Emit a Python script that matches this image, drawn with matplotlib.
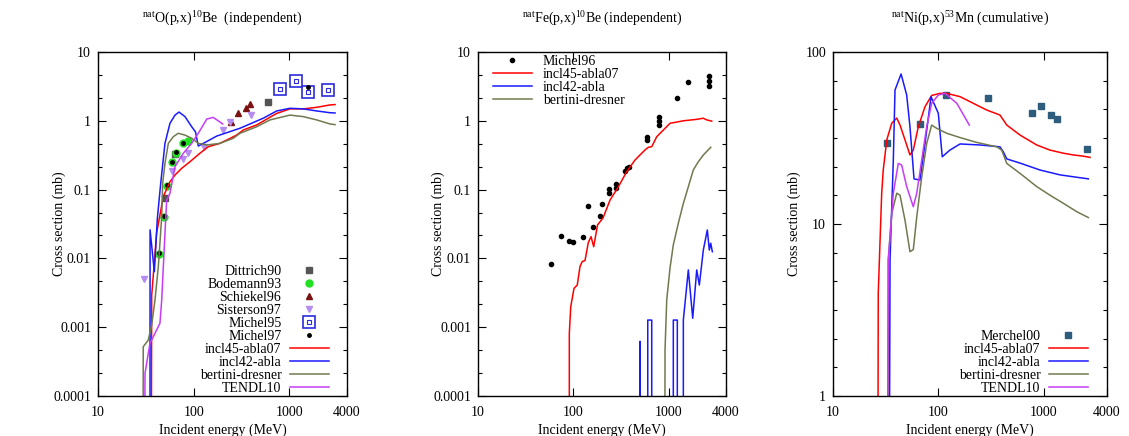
import numpy as np
import matplotlib
matplotlib.use('Agg')
import matplotlib.pyplot as plt
from matplotlib.ticker import FixedLocator, NullFormatter, FuncFormatter

plt.rcParams['font.family'] = ['Liberation Serif', 'DejaVu Serif']
plt.rcParams['mathtext.fontset'] = 'custom'
plt.rcParams['mathtext.rm'] = 'Liberation Serif'
plt.rcParams['font.size'] = 10

# ---------------- panel 1 : natO(p,x)10Be ----------------
dittrich_e = [50, 64, 593]
dittrich_s = [0.075, 0.33, 1.90]
bodemann_e = [43.7, 49, 53, 58.9, 65.3, 77.9, 87.8]
bodemann_s = [0.0115, 0.040, 0.113, 0.249, 0.344, 0.471, 0.514]
schiekel_e = [245, 287, 352, 392]
schiekel_s = [0.97, 1.28, 1.52, 1.73]
sisterson_e = [30.5, 58.9, 77.9, 88, 129, 201, 239, 394]
sisterson_s = [0.0051, 0.188, 0.276, 0.337, 0.42, 0.736, 0.97, 1.21]
michel95_e = [798, 1172, 1575, 2512]
michel95_s = [2.90, 3.78, 2.65, 2.80]
michel97_e = [43.7, 49, 53, 58.9, 65.3, 77.9, 1575]
michel97_s = [0.0118, 0.041, 0.115, 0.25, 0.35, 0.47, 3.13]

o_incl45_e = [35.5, 36.4, 41, 48.1, 56.5, 63.8, 75, 91.4, 116, 142, 188, 281, 330, 455, 602, 736,
              1014, 1397, 1928, 2655, 3000]
o_incl45_s = [0, 0.0029, 0.0234, 0.079, 0.130, 0.163, 0.204, 0.254, 0.337, 0.42, 0.47, 0.62, 0.735,
              0.87, 1.09, 1.28, 1.49, 1.49, 1.57, 1.70, 1.72]
o_incl42_e = [34.9, 35.0, 38.8, 41.7, 45.2, 50.1, 56.5, 63.8, 70.2, 81.1, 95.3, 104.4, 111.7, 137,
              174, 305, 533, 736, 1014, 1397, 1928, 2655, 3000]
o_incl42_s = [0, 0.026, 0.0064, 0.038, 0.123, 0.47, 0.92, 1.21, 1.34, 1.15, 0.82, 0.69, 0.43, 0.50,
              0.60, 0.78, 1.09, 1.39, 1.52, 1.49, 1.39, 1.31, 1.30]
o_bertini_e = [29.3, 29.7, 33.5, 36.4, 39.4, 42.7, 46.3, 47.4, 50.1, 54.3, 61.2, 69, 81.1, 95.3,
               111.7, 137, 188, 259, 305, 455, 627, 1014, 1397, 1928, 2655, 3000]
o_bertini_s = [0, 0.00052, 0.00065, 0.00108, 0.00248, 0.0076, 0.040, 0.124, 0.241, 0.47, 0.587,
               0.658, 0.62, 0.557, 0.47, 0.445, 0.47, 0.557, 0.658, 0.82, 1.03, 1.21, 1.15, 1.03,
               0.90, 0.88]
o_tendl_e = [29.7, 31, 34.9, 44.4, 46.3, 50.1, 52.2, 56.5, 63.8, 77.9, 95.3, 111.7, 137, 160, 201]
o_tendl_s = [0, 0.000214, 0.00058, 0.00114, 0.00248, 0.0232, 0.0706, 0.088, 0.215, 0.337, 0.471,
             0.658, 1.06, 1.12, 0.90]

# ---------------- panel 2 : natFe(p,x)10Be ----------------
michel96_e = [58.3, 73.8, 90.8, 100, 126, 144, 162, 191, 198, 239, 239, 281, 281, 349, 363, 384,
              598, 598, 799, 799, 799, 1216, 1610, 2655, 2655, 2655]
michel96_s = [0.0082, 0.0214, 0.0181, 0.0171, 0.0203, 0.0587, 0.0283, 0.041, 0.061, 0.102, 0.090,
              0.119, 0.104, 0.186, 0.204, 0.211, 0.587, 0.526, 1.15, 1.00, 0.87, 2.12, 3.70, 4.48,
              3.83, 3.21]
fe_incl45_e = [90.8, 90.8, 94, 101.7, 110, 117.5, 124, 132.6, 143.7, 153.4, 163.7, 179.4, 205, 243,
               297, 363, 444, 565, 612, 665, 750, 1035, 1427, 1972, 2312, 2512, 2831]
fe_incl45_s = [0, 0.00081, 0.00199, 0.00367, 0.0041, 0.0076, 0.0090, 0.0093, 0.017, 0.0207, 0.0148,
               0.0306, 0.0387, 0.0706, 0.110, 0.182, 0.269, 0.377, 0.412, 0.42, 0.587, 0.92, 1.00,
               1.05, 1.09, 1.03, 0.99]
fe_incl42_e = [501, 501, 501, 604, 604, 665, 665, 1120, 1120, 1234, 1234, 1427, 1427, 1610, 1790,
               1972, 2100, 2312, 2547, 2673, 2766, 2877]
fe_incl42_s = [0, 0.00062, 0, 0, 0.00127, 0.00127, 0, 0, 0.00127, 0.00127, 0, 0, 0.00127, 0.0068,
               0.00135, 0.0068, 0.0041, 0.0132, 0.0259, 0.0132, 0.0166, 0.0125]
fe_bertini_e = [902, 917, 955, 1035, 1120, 1264, 1427, 1610, 1816, 2050, 2312, 2766]
fe_bertini_s = [0, 0.00047, 0.00248, 0.0073, 0.0157, 0.0324, 0.063, 0.110, 0.193, 0.254, 0.318, 0.412]

# ---------------- panel 3 : natNi(p,x)53Mn ----------------
merchel_e = [32.8, 67.0, 118, 294, 771, 944, 1167, 1340, 2566]
merchel_s = [29.4, 38.1, 56.2, 53.8, 44.0, 48.5, 43.0, 41.0, 27.2]
ni_incl45_e = [25.1, 26.9, 29.0, 30.0, 32.4, 36.1, 40.3, 43.3, 48.3, 53.8, 57.9, 64.6, 74.8, 86.5,
               104, 120, 161, 215, 288, 385, 447, 597, 860, 1150, 1538, 1914, 2383, 2760]
ni_incl45_s = [0, 3.97, 15.1, 20.6, 30.8, 38.5, 41.3, 37.6, 30.8, 25.2, 26.9, 36.8, 48.1, 55.9,
               57.5, 57.5, 55, 50.3, 46.0, 43.0, 37.6, 32.9, 28.8, 26.9, 25.8, 25.2, 24.8, 24.4]
ni_incl42_e = [31.2, 34.8, 37.4, 38.8, 44.3, 50.1, 53.8, 58.8, 67.0, 74.8, 85.3, 100, 109, 129, 161,
               249, 385, 414, 447, 597, 925, 1432, 2061, 2660]
ni_incl42_s = [0, 6.2, 23.6, 60.1, 74.5, 56.2, 36.8, 18.3, 18.0, 29.4, 55.0, 44.0, 24.6, 26.9, 29.2,
               28.8, 28.1, 26.3, 23.9, 22.6, 20.6, 19.3, 18.7, 18.3]
ni_bertini_e = [31.9, 33.5, 36.1, 40.3, 43.3, 48.3, 53.8, 57.9, 62.4, 69.6, 77.6, 86.5, 96.6, 120,
                161, 232, 359, 400, 447, 597, 860, 1150, 1538, 2061, 2660]
ni_bertini_s = [0, 6.2, 11.5, 15.1, 14.7, 10.5, 6.9, 7.1, 11.0, 18.8, 29.4, 37.6, 36.0, 33.7, 31.8,
                29.8, 28.1, 26.9, 22.5, 19.7, 16.5, 14.7, 13.2, 11.8, 10.9]
ni_tendl_e = [30.0, 33.5, 37.4, 41.7, 44.9, 50.1, 57.9, 62.4, 69.6, 77.6, 86.5, 100, 116, 150, 197]
ni_tendl_s = [0, 6.2, 15.1, 22.5, 22.0, 16.5, 12.6, 15.1, 23.6, 36.8, 50.3, 56.2, 57.5, 50.3, 37.6]

c_red = '#ff0000'
c_blue = '#1a1aff'
c_olive = '#6f7a4f'
c_mag = '#c73cf5'


def floor(v):
    # zero cross sections are drawn straight down off the log axis
    v = np.asarray(v, float)
    return np.where(v > 0, v, 1e-9)


def style_axes(ax, ylo, yhi, ysub, ylab_x):
    ax.set_xscale('log')
    ax.set_yscale('log')
    ax.set_xlim(10, 4000)
    ax.set_ylim(ylo, yhi)
    ax.set_xticks([10, 100, 1000, 4000])
    ax.xaxis.set_minor_locator(FixedLocator([]))
    ax.xaxis.set_major_formatter(FuncFormatter(lambda v, p: '%g' % v))
    dec = np.arange(np.log10(ylo), np.log10(yhi) + 1)
    ax.yaxis.set_major_locator(FixedLocator(10.0 ** dec))
    minors = [10.0 ** (d + k / ysub) for d in dec[:-1] for k in range(1, ysub)]
    ax.yaxis.set_minor_locator(FixedLocator(minors))
    ax.yaxis.set_minor_formatter(NullFormatter())
    ax.yaxis.set_major_formatter(FuncFormatter(lambda v, p: '%g' % v))
    ax.tick_params(which='both', direction='in', top=True, right=True, labelsize=10, pad=5)
    ax.tick_params(which='major', length=6, width=0.8)
    ax.tick_params(which='minor', length=3, width=0.8)
    ax.tick_params(axis='x', pad=7)
    for s in ax.spines.values():
        s.set_linewidth(1.0)
    ax.set_xlabel('Incident energy (MeV)')
    ax.xaxis.set_label_coords(0.5, -0.08)
    ax.set_ylabel('Cross section (mb)')
    ax.yaxis.set_label_coords(ylab_x, 0.5)


fig = plt.figure(figsize=(11.29, 4.36), dpi=100)
W, H = 1129.0, 436.0
ax1 = fig.add_axes([98 / W, 40 / H, 249 / W, 344 / H])
ax2 = fig.add_axes([478 / W, 40 / H, 248 / W, 344 / H])
ax3 = fig.add_axes([833 / W, 40 / H, 274 / W, 344 / H])

# panel 1
ax1.plot(dittrich_e, dittrich_s, ls='none', marker='s', ms=5, color='#555555', label='Dittrich90')
ax1.plot(bodemann_e, bodemann_s, ls='none', marker='o', ms=5, color='#22e022', label='Bodemann93')
ax1.plot(schiekel_e, schiekel_s, ls='none', marker='^', ms=5, color='#7a1212', label='Schiekel96')
ax1.plot(sisterson_e, sisterson_s, ls='none', marker='v', ms=5, color='#b58cf0', label='Sisterson97')
m95a, = ax1.plot(michel95_e, michel95_s, ls='none', marker='s', ms=8.5, mfc='none', mec='#2b2bdd', mew=1.2)
m95b, = ax1.plot(michel95_e, michel95_s, ls='none', marker='s', ms=2.5, mfc='none', mec='#2b2bdd', mew=0.8)
m97, = ax1.plot(michel97_e, michel97_s, ls='none', marker='o', ms=2.5, color='black')
l1, = ax1.plot(o_incl45_e, floor(o_incl45_s), color=c_red, lw=1.1)
l2, = ax1.plot(o_incl42_e, floor(o_incl42_s), color=c_blue, lw=1.1)
l3, = ax1.plot(o_bertini_e, floor(o_bertini_s), color=c_olive, lw=1.1)
l4, = ax1.plot(o_tendl_e, floor(o_tendl_s), color=c_mag, lw=1.1)
style_axes(ax1, 1e-4, 10, 3, -0.129)
h, lab = ax1.get_legend_handles_labels()
h += [(m95a, m95b), m97, l1, l2, l3, l4]
lab += ['Michel95', 'Michel97', 'incl45-abla07', 'incl42-abla', 'bertini-dresner', 'TENDL10']
ax1.legend(h, lab, loc='lower right', bbox_to_anchor=(0.965, -0.026), markerfirst=False, frameon=False,
           fontsize=10, handlelength=2.8, handletextpad=0.6, labelspacing=0.0, numpoints=1,
           borderpad=0.2)
ax1.text(0.5, 1.10, r'$^{\rm nat}$O(p,x)$^{10}$Be  (independent)', transform=ax1.transAxes,
         ha='center', va='center', fontsize=10)

# panel 2
ax2.plot(michel96_e, michel96_s, ls='none', marker='o', ms=3, color='black', label='Michel96')
ax2.plot(fe_incl45_e, floor(fe_incl45_s), color=c_red, lw=1.1, label='incl45-abla07')
ax2.plot(fe_incl42_e, floor(fe_incl42_s), color=c_blue, lw=1.1, label='incl42-abla')
ax2.plot(fe_bertini_e, floor(fe_bertini_s), color=c_olive, lw=1.1, label='bertini-dresner')
style_axes(ax2, 1e-4, 10, 3, -0.133)
ax2.legend(loc='upper left', bbox_to_anchor=(0.02, 1.019), frameon=False, fontsize=10,
           handlelength=2.8, handletextpad=0.8, labelspacing=0.0, numpoints=1, borderpad=0.2)
ax2.text(0.5, 1.10, r'$^{\rm nat}$Fe(p,x)$^{10}$Be (independent)', transform=ax2.transAxes,
         ha='center', va='center', fontsize=10)

# panel 3
ax3.plot(merchel_e, merchel_s, ls='none', marker='s', ms=5, color='#2d5c7c', label='Merchel00')
ax3.plot(ni_incl45_e, floor(ni_incl45_s), color=c_red, lw=1.1, label='incl45-abla07')
ax3.plot(ni_incl42_e, floor(ni_incl42_s), color=c_blue, lw=1.1, label='incl42-abla')
ax3.plot(ni_bertini_e, floor(ni_bertini_s), color=c_olive, lw=1.1, label='bertini-dresner')
ax3.plot(ni_tendl_e, floor(ni_tendl_s), color=c_mag, lw=1.1, label='TENDL10')
style_axes(ax3, 1, 100, 6, -0.117)
ax3.legend(loc='lower right', bbox_to_anchor=(0.965, -0.026), markerfirst=False, frameon=False,
           fontsize=10, handlelength=2.8, handletextpad=0.6, labelspacing=0.0, numpoints=1,
           borderpad=0.2)
ax3.text(0.5, 1.10, r'$^{\rm nat}$Ni(p,x)$^{53}$Mn (cumulative)', transform=ax3.transAxes,
         ha='center', va='center', fontsize=10)

fig.savefig('out.png', dpi=100)
